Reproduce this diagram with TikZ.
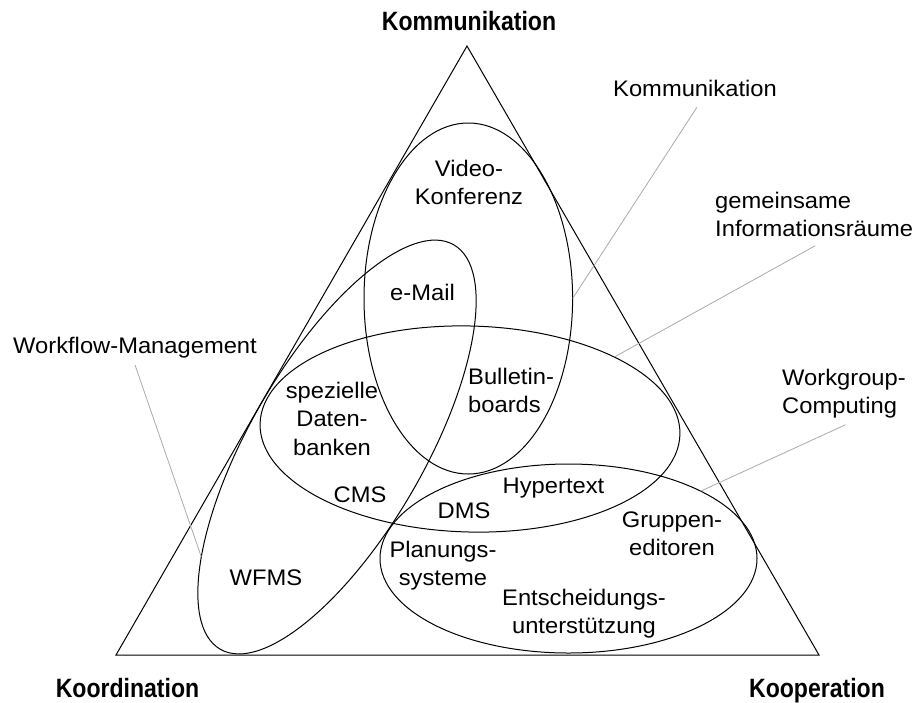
\documentclass[tikz,border=0pt]{standalone}
\usepackage{fontspec}
\setmainfont{Liberation Sans}[FakeStretch=1.055]
\newfontfamily\headfont{Liberation Sans Bold}[FakeStretch=0.87]
\usetikzlibrary{shapes.geometric}
\definecolor{leadgray}{RGB}{170,170,170}
% stacked lines of text, baseline at the first line
\newcommand\stacked[2][c]{\begin{tabular}[t]{@{}#1@{}}#2\end{tabular}}

\begin{document}
\begin{tikzpicture}[x=1pt, y=-1pt,
  font=\fontsize{22.5}{28.5}\selectfont,
  outline/.style={draw, line width=1pt, line join=miter},
  region/.style={ellipse, draw, line width=1pt, inner sep=0pt, outer sep=0pt},
  leader/.style={draw=leadgray, line width=0.8pt},
  txt/.style={inner sep=0pt, anchor=base},
  corner/.style={inner sep=0pt, anchor=base, font=\headfont\fontsize{26.5}{30}\selectfont}]

\useasboundingbox (0,0) rectangle (917,702);

% the triangle of the three dimensions
\coordinate (apex) at (467,46);
\coordinate (left) at (116,655);
\coordinate (right) at (819,655);
\draw[outline] (apex) -- (left) -- (right) -- cycle;

% corner labels
\node[corner] (hKomm) at (469,30) {Kommunikation};
\node[corner] (hKoord) at (127.5,697) {Koordination};
\node[corner] (hKoop) at (817,697) {Kooperation};

% the four application classes
\node[region, minimum width=208.6pt, minimum height=351pt] (ellK) at (468.3,298.5) {};
\node[region, minimum width=420pt, minimum height=206pt, rotate=-1.5] (ellI) at (470,429) {};
\node[region, minimum width=467pt, minimum height=174.8pt, rotate=60] (ellF) at (337,447) {};
\node[region, minimum width=377pt, minimum height=189pt] (ellW) at (568.5,558.5) {};

% systems inside the classes
\node[txt] (video) at (469,176) {\stacked{Video-\\Konferenz}};
\node[txt] (email) at (422.5,300) {e-Mail};
\node[txt, anchor=base west] (bboard) at (468,384) {\stacked[l]{Bulletin-\\boards}};
\node[txt] (sdb) at (332,398) {\stacked{spezielle\\Daten-\\banken}};
\node[txt] (cms) at (360,502) {CMS};
\node[txt] (dms) at (464,518) {DMS};
\node[txt] (hyper) at (553.5,493) {Hypertext};
\node[txt] (gruppe) at (672,527) {\stacked{Gruppen-\\editoren}};
\node[txt] (plan) at (443,557) {\stacked{Planungs-\\systeme}};
\node[txt] (entsch) at (584,605) {\stacked{Entscheidungs-\\unterstützung}};
\node[txt] (wfms) at (266,585) {WFMS};

% class names outside the triangle
\node[txt] (lKomm) at (695,96.7) {Kommunikation};
\node[txt, anchor=base west] (lInfo) at (715,208) {\stacked[l]{gemeinsame\\Informationsräume}};
\node[txt] (lWFM) at (135,353) {Workflow-Management};
\node[txt, anchor=base west] (lWGC) at (782,385) {\stacked[l]{Workgroup-\\Computing}};

% leader lines from the names to their classes
\draw[leader] ([shift={(2,10)}]lKomm.south) -- (ellK.east);
\draw[leader] ([shift={(1,0.5)}]lInfo.south) -- (ellI.28);
\draw[leader] ([shift={(1.5,2.5)}]lWGC.south) -- (ellW.27);
\draw[leader] ([shift={(0,7)}]lWFM.south) -- (ellF.159.5);
\end{tikzpicture}
\end{document}
